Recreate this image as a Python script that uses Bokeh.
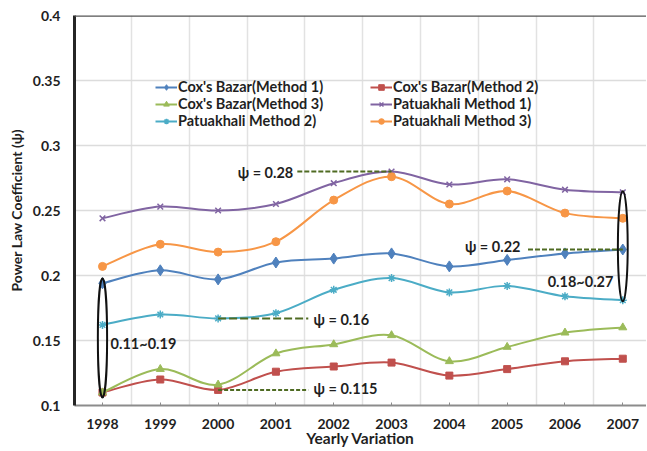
from bokeh.plotting import figure
from bokeh.models import (Range1d, FixedTicker, Legend, LegendItem, Label, Span,
                          ColumnDataSource)
from bokeh.embed import file_html
from bokeh.resources import INLINE

# ---------------- data ----------------
years = [1998, 1999, 2000, 2001, 2002, 2003, 2004, 2005, 2006, 2007]
cox_m1 = [0.194, 0.204, 0.197, 0.210, 0.213, 0.217, 0.207, 0.212, 0.217, 0.220]
cox_m2 = [0.110, 0.120, 0.112, 0.126, 0.130, 0.133, 0.123, 0.128, 0.134, 0.136]
cox_m3 = [0.110, 0.128, 0.116, 0.140, 0.147, 0.154, 0.134, 0.145, 0.156, 0.160]
pat_m1 = [0.244, 0.253, 0.250, 0.255, 0.271, 0.280, 0.270, 0.274, 0.266, 0.264]
pat_m2 = [0.162, 0.170, 0.167, 0.171, 0.189, 0.198, 0.187, 0.192, 0.184, 0.181]
pat_m3 = [0.207, 0.224, 0.218, 0.226, 0.258, 0.276, 0.255, 0.265, 0.248, 0.244]
y_ticks = [0.1, 0.15, 0.2, 0.25, 0.3, 0.35, 0.4]
y_tick_labels = ["0.1", "0.15", "0.2", "0.25", "0.3", "0.35", "0.4"]

series = [
    ("Cox's Bazar(Method 1)", cox_m1, "#4F81BD", "diamond", 11),
    ("Cox's Bazar(Method 2)", cox_m2, "#C0504D", "square", 7),
    ("Cox's Bazar(Method 3)", cox_m3, "#9BBB59", "triangle", 8),
    ("Patuakhali Method 1)", pat_m1, "#8064A2", "x", 8),
    ("Patuakhali Method 2)", pat_m2, "#4BACC6", "asterisk", 8),
    ("Patuakhali Method 3)", pat_m3, "#F79646", "circle", 8),
]

FONT = "Lato"
TXT = "#1f1f1f"

p = figure(width=646, height=451, output_backend="svg", toolbar_location=None,
           x_range=Range1d(1997.516, 2007.41), y_range=Range1d(0.1, 0.4),
           min_border_left=74, min_border_right=0, min_border_top=15,
           min_border_bottom=46)
p.outline_line_color = None
p.background_fill_color = "white"

# axes
p.xaxis.ticker = FixedTicker(ticks=years)
p.xaxis.major_label_overrides = {y: str(y) for y in years}
p.yaxis.ticker = FixedTicker(ticks=y_ticks)
p.yaxis.major_label_overrides = {t: l for t, l in zip(y_ticks, y_tick_labels)}
for ax in (p.xaxis[0], p.yaxis[0]):
    ax.major_label_text_font = FONT
    ax.major_label_text_font_style = "bold"
    ax.major_label_text_font_size = "14px"
    ax.major_label_text_color = TXT
    ax.axis_label_text_font = FONT
    ax.axis_label_text_font_style = "bold"
    ax.axis_label_text_font_size = "14px"
    ax.axis_label_text_color = TXT
    ax.minor_tick_line_color = None
p.xaxis.axis_label = "Yearly Variation"
p.xaxis.axis_label_text_font_size = "15.5px"
p.xaxis.axis_label_standoff = -3
p.xaxis.major_label_standoff = 13
p.xaxis.axis_line_color = "#8c8c8c"
p.xaxis.axis_line_width = 2
p.xaxis.major_tick_in = 3
p.xaxis.major_tick_out = 0
p.xaxis.major_tick_line_color = "#8c8c8c"
p.yaxis.axis_label = "Power Law Coefficient (\u03c8)"
p.yaxis.axis_label_standoff = 5
p.yaxis.major_label_standoff = 14
p.yaxis.axis_line_color = "#262626"
p.yaxis.axis_line_width = 3
p.yaxis.major_tick_in = 0
p.yaxis.major_tick_out = 0

# grids
p.ygrid.ticker = FixedTicker(ticks=y_ticks)
p.ygrid.grid_line_color = "#dcdcdc"
p.ygrid.grid_line_width = 1.5
p.xgrid.ticker = FixedTicker(ticks=[y + 0.5 for y in years[:-1]])
p.xgrid.grid_line_color = "#e2e2e2"
p.xgrid.grid_line_width = 1.5
p.add_layout(Span(location=y_ticks[-1], dimension="width", line_color="#555555",
                  line_width=2.5))


def smooth_segments(xs, ys):
    n = len(xs)
    x0, y0, x1, y1, cx0, cy0, cx1, cy1 = [], [], [], [], [], [], [], []
    for i in range(n - 1):
        pa = max(i - 1, 0)
        pb = min(i + 2, n - 1)
        x0.append(xs[i]); y0.append(ys[i])
        x1.append(xs[i + 1]); y1.append(ys[i + 1])
        cx0.append(xs[i] + (xs[i + 1] - xs[pa]) / 6.0)
        cy0.append(ys[i] + (ys[i + 1] - ys[pa]) / 6.0)
        cx1.append(xs[i + 1] - (xs[pb] - xs[i]) / 6.0)
        cy1.append(ys[i + 1] - (ys[pb] - ys[i]) / 6.0)
    return dict(x0=x0, y0=y0, x1=x1, y1=y1, cx0=cx0, cy0=cy0, cx1=cx1, cy1=cy1)


items = {}
for name, vals, color, marker, size in series:
    seg = ColumnDataSource(smooth_segments(years, vals))
    rb = p.bezier(x0="x0", y0="y0", x1="x1", y1="y1", cx0="cx0", cy0="cy0",
                  cx1="cx1", cy1="cy1", source=seg, line_color=color, line_width=2)
    rs = p.scatter(years, vals, marker=marker, size=size, fill_color=color,
                   line_color=color, line_width=1.5 if marker in ("x", "asterisk") else 1)
    items[name] = LegendItem(label=name, renderers=[rb, rs])

names = [s[0] for s in series]
col1 = [items[names[0]], items[names[2]], items[names[4]]]
col2 = [items[names[1]], items[names[3]], items[names[5]]]
for its, xoff in ((col1, 81), (col2, 296)):
    lg = Legend(items=its, location=(xoff, 276), orientation="vertical",
                background_fill_alpha=0, border_line_color=None,
                padding=0, margin=0, spacing=0, glyph_width=22, glyph_height=14,
                label_height=14, label_standoff=1,
                label_text_font=FONT, label_text_font_style="bold",
                label_text_font_size="14.5px", label_text_color=TXT)
    p.add_layout(lg)

# annotations (dashed reference lines tied to the data)
dash_col = "#4F6B22"
p.segment(x0=[2001.37], y0=[pat_m1[5]], x1=[years[5]], y1=[pat_m1[5]],
          line_color=dash_col, line_width=2, line_dash="5 2")
p.segment(x0=[2005.36], y0=[cox_m1[9]], x1=[years[9]], y1=[cox_m1[9]],
          line_color=dash_col, line_width=2, line_dash="5 2")
p.segment(x0=[years[2]], y0=[pat_m2[2]], x1=[2001.56], y1=[pat_m2[2]],
          line_color=dash_col, line_width=2, line_dash="8 3")
p.segment(x0=[years[2]], y0=[cox_m2[2]], x1=[2001.56], y1=[cox_m2[2]],
          line_color=dash_col, line_width=2, line_dash="4 2")

# ellipses around the 1998 and 2007 ranges
lo98, hi98 = min(cox_m2[0], cox_m3[0]), cox_m1[0]
p.ellipse(x=[years[0]], y=[(lo98 + hi98) / 2], width=0.16, height=[hi98 - lo98 + 0.008],
          fill_color=None, line_color="#111111", line_width=2)
lo07, hi07 = pat_m2[9], pat_m1[9]
p.ellipse(x=[years[9]], y=[(lo07 + hi07) / 2], width=0.17, height=[hi07 - lo07 + 0.002],
          fill_color=None, line_color="#111111", line_width=2)

lab_kw = dict(text_font=FONT, text_font_style="bold", text_font_size="14.5px",
              text_color=TXT, text_baseline="middle")
p.add_layout(Label(x=2001.30, y=0.2792, text="\u03c8 = 0.28", text_align="right", **lab_kw))
p.add_layout(Label(x=2005.23, y=0.2223, text="\u03c8 = 0.22", text_align="right", **lab_kw))
p.add_layout(Label(x=2001.65, y=0.1662, text="\u03c8 = 0.16", text_align="left", **lab_kw))
p.add_layout(Label(x=2001.65, y=0.1131, text="\u03c8 = 0.115", text_align="left", **lab_kw))
p.add_layout(Label(x=1998.14, y=0.1477, text="0.11~0.19", text_align="left", **lab_kw))
p.add_layout(Label(x=2005.70, y=0.1954, text="0.18~0.27", text_align="left", **lab_kw))

open("out.html", "w").write(file_html(p, INLINE))
